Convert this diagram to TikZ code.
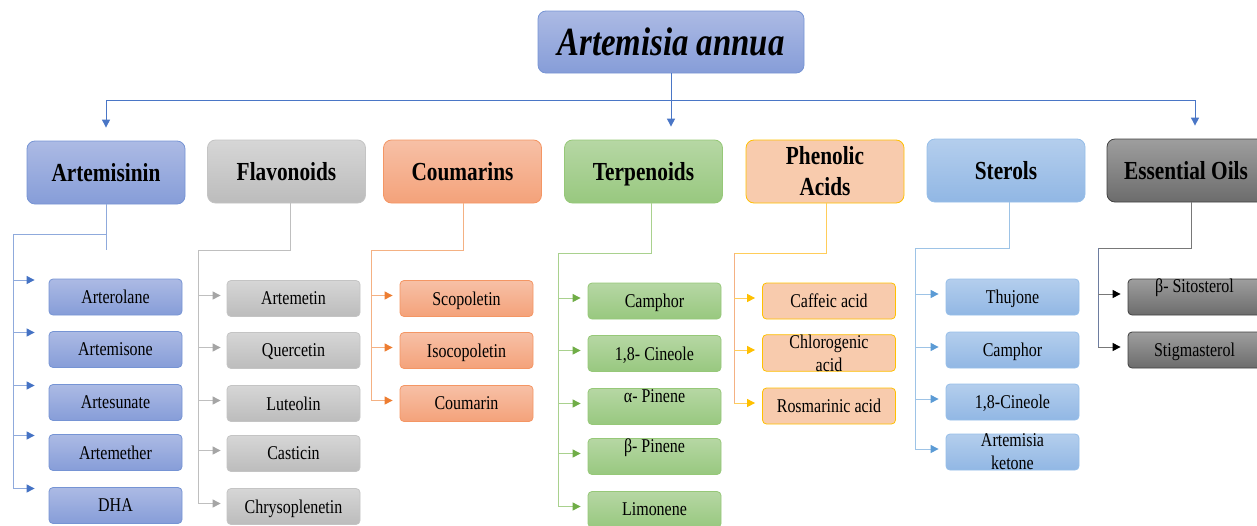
\documentclass[tikz,border=0pt]{standalone}
\usepackage{fontspec}
\setmainfont{Liberation Serif}[FakeStretch=0.82]
\usetikzlibrary{arrows.meta}

\definecolor{bluT}{RGB}{172,186,228}
\definecolor{bluB}{RGB}{134,157,216}
\definecolor{bluD}{RGB}{118,148,212}
\definecolor{gryT}{RGB}{214,214,214}
\definecolor{gryB}{RGB}{188,188,188}
\definecolor{gryD}{RGB}{196,196,196}
\definecolor{orgT}{RGB}{247,192,166}
\definecolor{orgB}{RGB}{244,162,122}
\definecolor{orgD}{RGB}{244,150,100}
\definecolor{grnT}{RGB}{182,215,164}
\definecolor{grnB}{RGB}{152,200,127}
\definecolor{grnD}{RGB}{150,200,120}
\definecolor{pch}{RGB}{248,203,173}
\definecolor{pchD}{RGB}{255,192,0}
\definecolor{skyT}{RGB}{180,206,237}
\definecolor{skyB}{RGB}{145,183,228}
\definecolor{skyD}{RGB}{150,190,232}
\definecolor{dgrT}{RGB}{158,158,158}
\definecolor{dgrB}{RGB}{108,108,108}
\definecolor{dgrD}{RGB}{64,64,64}
\definecolor{topL}{RGB}{74,118,198}
\definecolor{bluL}{RGB}{143,170,220}
\definecolor{bluA}{RGB}{68,114,196}
\definecolor{gryL}{RGB}{191,191,191}
\definecolor{gryA}{RGB}{165,165,165}
\definecolor{orgL}{RGB}{244,177,131}
\definecolor{orgA}{RGB}{237,125,49}
\definecolor{grnL}{RGB}{169,209,142}
\definecolor{grnA}{RGB}{112,173,71}
\definecolor{pchL}{RGB}{255,205,90}
\definecolor{skyL}{RGB}{157,195,230}
\definecolor{skyA}{RGB}{91,155,213}
\definecolor{dgrL}{RGB}{120,120,120}
\definecolor{dgrM}{RGB}{110,125,160}

\begin{document}
\begin{tikzpicture}[x=1pt,y=-1pt,
  cat/.style={draw,line width=0.8pt,rounded corners=8pt,minimum width=158pt,minimum height=63pt,
    align=center,font=\fontsize{26}{31}\selectfont\bfseries},
  item/.style={draw,line width=0.8pt,rounded corners=4pt,minimum width=133pt,minimum height=36pt,
    align=center,text depth=0pt,font=\fontsize{19.5}{23}\selectfont},
  up/.style={text height=0pt,text depth=9pt},
  two/.style={inner ysep=0pt},
  blu/.style={top color=bluT,bottom color=bluB,draw=bluD},
  gry/.style={top color=gryT,bottom color=gryB,draw=gryD},
  org/.style={top color=orgT,bottom color=orgB,draw=orgD},
  grn/.style={top color=grnT,bottom color=grnB,draw=grnD},
  pchf/.style={fill=pch,draw=pchD},
  sky/.style={top color=skyT,bottom color=skyB,draw=skyD},
  dgr/.style={top color=dgrT,bottom color=dgrB,draw=dgrD},
  conn/.style={draw=#1,line width=1pt},
  arr/.style={-{Triangle[length=8pt,width=8pt,color=#1]}}]
\useasboundingbox (0,0) rectangle (1257,525);

\node[cat,blu,minimum width=266pt,minimum height=62pt,font=\fontsize{40}{48}\selectfont\bfseries\itshape]
  (title) at (671,42) {Artemisia annua};

\node[cat,blu] (art) at (106,172.5) {Artemisinin};
\node[cat,gry] (flav) at (286.5,171.5) {Flavonoids};
\node[cat,org] (coum) at (462.5,171.5) {Coumarins};
\node[cat,grn,text depth=0pt] (terp) at (643.5,171.5) {Terpenoids};
\node[cat,pchf] (phen) at (825,171.5) {Phenolic\\Acids};
\node[cat,sky] (ster) at (1006,170.5) {Sterols};
\node[cat,dgr] (oil) at (1186,170.5) {Essential Oils};

% top connectors
\coordinate (hub) at (671,100);
\draw[conn=topL,arr=topL] (title.south) -- ([yshift=13pt]title.south |- terp.north);
\draw[conn=topL,arr=topL] (hub) -| ([yshift=13pt]art.north);
\draw[conn=topL,arr=topL] (hub) -| ([xshift=9pt,yshift=13pt]oil.north);

% Artemisinin
\foreach \t/\y [count=\i] in {Arterolane/297,Artemisone/349.5,Artesunate/402.5,Artemether/452.5,DHA/505.5}
  \node[item,blu] (art\i) at (115.5,\y) {\t};
\coordinate (artj) at (106,250);
\coordinate (artt) at (13,234);
\draw[conn=bluL] (artj |- art.south) -- (artj) (artj |- artt) -- (artt) -- ([yshift=17pt]artt |- art5.west);
\foreach \i in {1,...,5}
  \draw[conn=bluL,arr=bluA] ([yshift=17pt]artt |- art\i.west) -- ([xshift=-14pt,yshift=17pt]art\i.west);

% Flavonoids
\foreach \t/\y [count=\i] in {Artemetin/298.5,Quercetin/350.5,Luteolin/403.5,Casticin/453.5,Chrysoplenetin/506.5}
  \node[item,gry] (flav\i) at (293.5,\y) {\t};
\coordinate (flavj) at (290,250);
\coordinate (flavt) at (198,250);
\draw[conn=gryL] (flavj |- flav.south) -- (flavj) -- (flavt) -- ([yshift=3pt]flavt |- flav5.west);
\foreach \i in {1,...,5}
  \draw[conn=gryL,arr=gryA] ([yshift=3pt]flavt |- flav\i.west) -- ([xshift=-6pt,yshift=3pt]flav\i.west);

% Coumarins
\foreach \t/\y [count=\i] in {Scopoletin/298.5,Isocopoletin/350.5,Coumarin/403.5}
  \node[item,org] (coum\i) at (466.5,\y) {\t};
\coordinate (coumj) at (463,250);
\coordinate (coumt) at (371,250);
\draw[conn=orgL] (coumj |- coum.south) -- (coumj) -- (coumt) -- ([yshift=3pt]coumt |- coum3.west);
\foreach \i in {1,...,3}
  \draw[conn=orgL,arr=orgA] ([yshift=3pt]coumt |- coum\i.west) -- ([xshift=-7pt,yshift=3pt]coum\i.west);

% Terpenoids
\foreach \t/\y/\o [count=\i] in {Camphor/301/{},1{,}8- Cineole/353.5/{},α- Pinene/406.5/up,β- Pinene/456.5/up,Limonene/509.5/{}}
  \node[item,grn,\o] (terp\i) at (654.5,\y) {\t};
\coordinate (terpj) at (651,253);
\coordinate (terpt) at (558,253);
\draw[conn=grnL] (terpj |- terp.south) -- (terpj) -- (terpt) -- ([yshift=3pt]terpt |- terp5.west);
\foreach \i in {1,...,5}
  \draw[conn=grnL,arr=grnA] ([yshift=3pt]terpt |- terp\i.west) -- ([xshift=-7pt,yshift=3pt]terp\i.west);

% Phenolic acids
\foreach \t/\y/\o [count=\i] in {Caffeic acid/301/{},Chlorogenic\\acid/353/two,Rosmarinic acid/406/{}}
  \node[item,pchf,\o] (phen\i) at (829,\y) {\t};
\coordinate (phenj) at (826,253);
\coordinate (phent) at (734,253);
\draw[conn=pchL] (phenj |- phen.south) -- (phenj) -- (phent);
\draw[conn=orgL] (phent) -- ([yshift=3pt]phent |- phen3.west);
\foreach \i in {1,...,3}
  \draw[conn=pchL,arr=pchD] ([yshift=3pt]phent |- phen\i.west) -- ([xshift=-7pt,yshift=3pt]phen\i.west);

% Sterols
\foreach \t/\y/\o [count=\i] in {Thujone/297/{},Camphor/350/{},1{,}8-Cineole/402/{},Artemisia\\ketone/452/two}
  \node[item,sky,\o] (ster\i) at (1012.5,\y) {\t};
\coordinate (sterj) at (1009,248);
\coordinate (stert) at (915,248);
\draw[conn=skyL] (sterj |- ster.south) -- (sterj) -- (stert) -- ([yshift=3pt]stert |- ster4.west);
\foreach \i in {1,...,4}
  \draw[conn=skyL,arr=skyA] ([yshift=3pt]stert |- ster\i.west) -- ([xshift=-7pt,yshift=3pt]ster\i.west);

% Essential oils
\foreach \t/\y/\o [count=\i] in {β- Sitosterol/297/up,Stigmasterol/350/{}}
  \node[item,dgr,\o] (oil\i) at (1194.5,\y) {\t};
\coordinate (oilj) at (1191,248);
\coordinate (oilt) at (1098,248);
\draw[conn=dgrL] (oilj |- oil.south) -- (oilj) -- (oilt);
\draw[conn=dgrM] (oilt) -- ([yshift=3pt]oilt |- oil2.west);
\foreach \i in {1,2}
  \draw[conn=dgrL,arr=black] ([yshift=3pt]oilt |- oil\i.west) -- ([xshift=-7pt,yshift=3pt]oil\i.west);
\end{tikzpicture}
\end{document}
